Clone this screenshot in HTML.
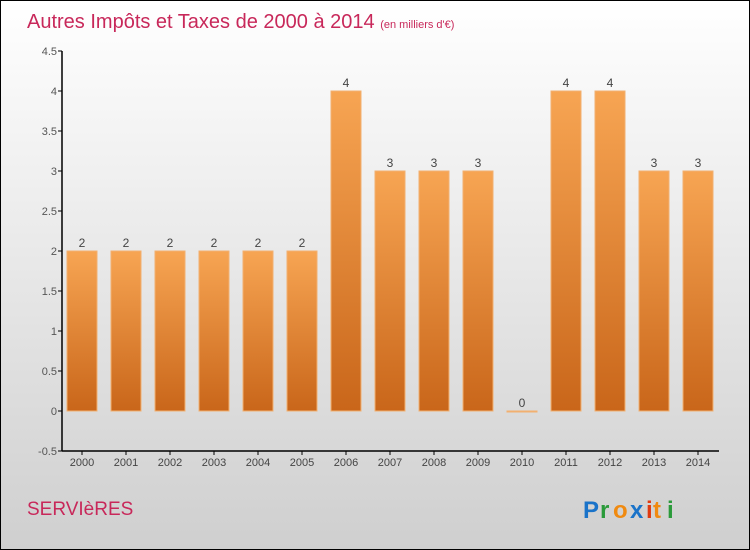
<!DOCTYPE html>
<html><head><meta charset="utf-8"><style>
body{margin:0}
#c{position:relative;width:748px;height:548px;border:1px solid #000;background:linear-gradient(#ffffff,#cfcfcf);font-family:"Liberation Sans",sans-serif;overflow:hidden}
</style></head><body>
<div id="c">
<svg width="748" height="548" id="svg">
<defs><linearGradient id="bg" x1="0" y1="0" x2="0" y2="1"><stop offset="0" stop-color="#f7a553"/><stop offset="1" stop-color="#c9661a"/></linearGradient></defs>
<text x="26" y="27" font-size="20" fill="#c8285a">Autres Impôts et Taxes de 2000 à 2014 <tspan font-size="11">(en milliers d'€)</tspan></text>
<text x="26" y="514" font-size="19" fill="#c8285a">SERVIèRES</text>
<g font-size="24" font-family="Liberation Sans" font-weight="bold">
<text x="582" y="517" fill="#1a73c9">P</text><text x="599" y="517" fill="#2a9a3a">r</text><text x="612" y="517" fill="#f08a10">o</text><text x="629" y="517" fill="#1a73c9">x</text><text x="645" y="517" fill="#e03a10">i</text><text x="652" y="517" fill="#f08a10">t</text><text x="666" y="517" fill="#2a9a3a">i</text></g>
<g id="plot"></g>
</svg></div>
<script>
const years=["2000","2001","2002","2003","2004","2005","2006","2007","2008","2009","2010","2011","2012","2013","2014"];
const values=[2,2,2,2,2,2,4,3,3,3,0,4,4,3,3];
const yTicks=[-0.5,0,0.5,1,1.5,2,2.5,3,3.5,4,4.5];
const yTickLabels=["-0.5","0","0.5","1","1.5","2","2.5","3","3.5","4","4.5"];
const ns="http://www.w3.org/2000/svg";
const g=document.getElementById('plot');
const y=v=>410-v*80, x=i=>81+i*44;
function el(t,a,txt){const e=document.createElementNS(ns,t);for(const k in a)e.setAttribute(k,a[k]);if(txt!=null)e.textContent=txt;g.appendChild(e);return e;}
yTicks.forEach((t,i)=>{
 const l=el('line',{x1:57,x2:61,y1:y(t),y2:y(t),stroke:'#000'});
 
 const tx=el('text',{x:56,y:y(t)+4,'text-anchor':'end','font-size':11,fill:'#555'},yTickLabels[i]);
 
});
values.forEach((v,i)=>{
 const top=Math.min(y(v),y(0)), h=Math.max(Math.abs(y(v)-y(0)),1);
 const b=el('rect',{x:x(i)-15,y:top,width:30,height:h,fill:'url(#bg)',stroke:'#f2b070','stroke-width':1});
 
 const vl=el('text',{x:x(i),y:y(v)-4,'text-anchor':'middle','font-size':12,fill:'#444'},String(v));
 
 const tk=el('line',{x1:x(i),x2:x(i),y1:450,y2:454,stroke:'#000'});
 
 const xl=el('text',{x:x(i),y:465,'text-anchor':'middle','font-size':11,fill:'#444'},years[i]);
 
});
const ya=el('line',{x1:61,x2:61,y1:y(4.5),y2:450,stroke:'#000','stroke-width':1.5});

const xa=el('line',{x1:61,x2:718,y1:450,y2:450,stroke:'#000','stroke-width':1.5});

</script>
</body></html>
